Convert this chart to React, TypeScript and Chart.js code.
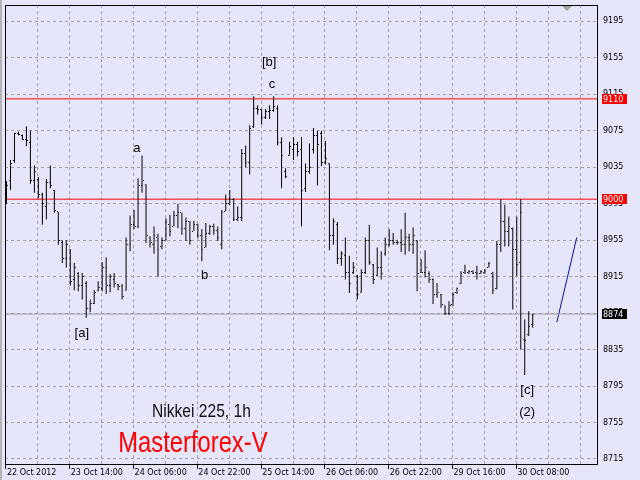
import React, { useEffect, useRef } from 'react';
import { Chart, registerables } from 'chart.js';
Chart.register(...registerables);

// ---- data ----
const timeLabels = ['22 Oct 2012', '23 Oct 14:00', '24 Oct 06:00', '24 Oct 22:00', '25 Oct 14:00', '26 Oct 06:00', '26 Oct 22:00', '29 Oct 16:00', '30 Oct 08:00'];
const priceTicks = [8715, 8755, 8795, 8835, 8875, 8915, 8955, 8995, 9035, 9075, 9115, 9155, 9195];

const opens = [
  8998, 9020, 9042, 9072, 9070, 9066, 9062, 9020, 9022, 9005, 8992, 9018, 9010, 8986, 8953, 8935, 8945, 8912, 8918, 8905,
  8908, 8880, 8886, 8900, 8902, 8925, 8905, 8912, 8906, 8904, 8900, 8950, 8972, 8970, 9015, 9016, 8958, 8950, 8958, 8948,
  8955, 8972, 8970, 8982, 8985, 8968, 8975, 8965, 8972, 8960, 8947, 8962, 8970, 8966, 8950, 8987, 8995, 9000, 8978, 8980,
  9050, 9040, 9080, 9100, 9098, 9090, 9096, 9097, 9100, 9062, 9030, 9048, 9055, 9060, 9055, 9012, 9030, 9055, 9070, 9072,
  9040, 9039, 8960, 8972, 8935, 8938, 8920, 8920, 8915, 8898, 8920, 8955, 8928, 8916, 8925, 8940, 8950, 8955, 8952, 8953,
  8950, 8958, 8950, 8955, 8920, 8920, 8918, 8912, 8895, 8895, 8883, 8875, 8884, 8898, 8908, 8920, 8920, 8921, 8920, 8919,
  8920, 8925, 8918, 8902, 8950, 8975, 8965, 8968, 8945, 8930, 8846, 8852, 8862,
];
const highs = [
  9020, 9043, 9073, 9074, 9071, 9080, 9075, 9037, 9024, 9007, 9022, 9037, 9010, 8986, 8955, 8955, 8945, 8930, 8920, 8919,
  8910, 8890, 8900, 8910, 8931, 8936, 8918, 8919, 8907, 8907, 8958, 8982, 8988, 9023, 9048, 9016, 8959, 8970, 8962, 8958,
  8979, 8983, 8987, 8995, 8985, 8980, 8976, 8976, 8973, 8967, 8974, 8972, 8973, 8970, 8988, 9005, 9010, 9001, 8992, 9055,
  9059, 9081, 9113, 9103, 9099, 9099, 9103, 9113, 9103, 9068, 9034, 9063, 9068, 9063, 9068, 9039, 9061, 9078, 9075, 9075,
  9064, 9039, 8979, 8975, 8943, 8958, 8938, 8931, 8917, 8923, 8958, 8972, 8929, 8947, 8943, 8958, 8967, 8963, 8955, 8967,
  8985, 8962, 8969, 8955, 8934, 8944, 8921, 8913, 8908, 8896, 8883, 8888, 8898, 8903, 8921, 8928, 8922, 8922, 8927, 8922,
  8923, 8931, 8920, 8954, 9000, 8994, 8981, 8969, 8981, 9000, 8868, 8877, 8874,
];
const lows = [
  8995, 9010, 9040, 9070, 9065, 9058, 9017, 9007, 9001, 8972, 8978, 9012, 8985, 8950, 8930, 8925, 8905, 8900, 8899, 8890,
  8870, 8876, 8885, 8899, 8899, 8896, 8898, 8903, 8900, 8890, 8900, 8943, 8967, 8968, 9007, 8952, 8947, 8940, 8915, 8945,
  8955, 8959, 8970, 8968, 8961, 8954, 8950, 8965, 8957, 8932, 8947, 8961, 8961, 8954, 8945, 8987, 8994, 8976, 8976, 8976,
  9035, 9027, 9078, 9093, 9082, 9088, 9088, 9096, 9059, 9012, 9023, 9048, 9043, 9047, 8970, 9008, 9028, 9050, 9015, 9036,
  9038, 8944, 8950, 8929, 8927, 8912, 8897, 8918, 8890, 8898, 8918, 8928, 8907, 8916, 8912, 8938, 8948, 8950, 8950, 8942,
  8939, 8943, 8940, 8899, 8919, 8914, 8908, 8885, 8892, 8881, 8873, 8873, 8883, 8896, 8907, 8918, 8918, 8918, 8912, 8918,
  8918, 8925, 8896, 8901, 8942, 8948, 8948, 8879, 8916, 8835, 8807, 8850, 8859,
];
const closes = [
  9015, 9039, 9072, 9071, 9066, 9064, 9020, 9030, 9005, 8995, 9018, 9015, 8988, 8955, 8935, 8950, 8910, 8925, 8905, 8915,
  8880, 8886, 8898, 8903, 8925, 8905, 8915, 8908, 8904, 8893, 8950, 8972, 8970, 9015, 9020, 8960, 8952, 8960, 8945, 8955,
  8975, 8965, 8982, 8985, 8968, 8975, 8955, 8972, 8960, 8945, 8962, 8970, 8966, 8958, 8985, 8995, 9000, 8978, 8980, 9050,
  9040, 9078, 9100, 9098, 9090, 9096, 9097, 9102, 9062, 9048, 9025, 9058, 9060, 9052, 9010, 9030, 9035, 9070, 9060, 9040,
  9045, 8960, 8975, 8935, 8940, 8920, 8908, 8925, 8895, 8920, 8955, 8930, 8912, 8925, 8918, 8950, 8955, 8952, 8953, 8950,
  8958, 8950, 8960, 8918, 8920, 8925, 8912, 8895, 8898, 8885, 8875, 8883, 8895, 8902, 8918, 8922, 8921, 8919, 8918, 8921,
  8922, 8929, 8900, 8950, 8975, 8965, 8970, 8945, 8928, 8985, 8845, 8860, 8874,
];

const resistanceHigh = 9110;
const resistanceLow = 9000;
const bidPrice = 8874;
const trendX = [138.05, 143.05];
const trendY = [8865, 8958];

const waveLabels = [
  { text: '[b]', x: 65.9, y: 9146 },
  { text: 'c', x: 66.6, y: 9122 },
  { text: 'a', x: 32.7, y: 9052 },
  { text: 'b', x: 49.7, y: 8912 },
  { text: '[a]', x: 18.9, y: 8849 },
  { text: '[c]', x: 130.6, y: 8786 },
  { text: '(2)', x: 130.6, y: 8762 },
];
const titleText = { text: 'Nikkei 225, 1h', x: 48.9, y: 8761 };
const brandText = { text: 'Masterforex-V', x: 46.75, y: 8722.6 };

const X_MIN = -0.375;
const X_MAX = 148.125;
const Y_MIN = 8709.5;
const Y_MAX = 9213.0;

const BG = '#e6e6fa';
const GRID = '#a0a0a0';
const AXIS_FONT = '"DejaVu Sans", "Liberation Sans", sans-serif';

export default function App() {
  const ref = useRef<HTMLCanvasElement | null>(null);

  useEffect(() => {
    document.body.style.margin = '0';
    const canvas = ref.current;
    if (!canvas) return;

    const mk = (left: boolean) => {
      const c = document.createElement('canvas');
      c.width = 3;
      c.height = 1;
      const g = c.getContext('2d')!;
      g.fillStyle = '#000';
      g.fillRect(left ? 0 : 2, 0, 1, 1);
      return c;
    };
    const openImg = mk(true);
    const closeImg = mk(false);

    const decor = {
      id: 'decor',
      beforeDraw(chart: any) {
        const ctx = chart.ctx;
        ctx.save();
        ctx.fillStyle = BG;
        ctx.fillRect(0, 0, chart.width, chart.height);
        ctx.fillStyle = '#b4b4b4';
        ctx.fillRect(0, 0, 2, chart.height);
        ctx.restore();
      },
      beforeDatasetsDraw(chart: any) {
        chart.ctx.imageSmoothingEnabled = false;
      },
      afterDatasetsDraw(chart: any) {
        const ctx = chart.ctx;
        const xs = chart.scales.x;
        const ys = chart.scales.y;
        const a = chart.chartArea;
        ctx.save();
        ctx.imageSmoothingEnabled = true;
        ctx.strokeStyle = '#000';
        ctx.lineWidth = 1;
        ctx.strokeRect(a.left + 0.5, a.top + 0.5, a.right - a.left, a.bottom - a.top);
        // chart shift marker
        ctx.fillStyle = '#a0a0a0';
        ctx.beginPath();
        ctx.moveTo(a.right - 35, a.top + 1);
        ctx.lineTo(a.right - 25, a.top + 1);
        ctx.lineTo(a.right - 30, a.top + 6);
        ctx.closePath();
        ctx.fill();
        ctx.textAlign = 'center';
        ctx.textBaseline = 'alphabetic';
        ctx.fillStyle = '#000';
        ctx.font = '13px "Liberation Sans", Arial, sans-serif';
        for (const w of waveLabels) {
          ctx.fillText(w.text, xs.getPixelForValue(w.x), ys.getPixelForValue(w.y));
        }
        const narrow = (t: { text: string; x: number; y: number }, size: number, color: string) => {
          ctx.save();
          ctx.translate(xs.getPixelForValue(t.x), ys.getPixelForValue(t.y));
          ctx.scale(0.82, 1);
          ctx.font = `${size}px "Liberation Sans", Arial, sans-serif`;
          ctx.fillStyle = color;
          ctx.fillText(t.text, 0, 0);
          ctx.restore();
        };
        narrow(titleText, 19, '#111');
        narrow(brandText, 29, '#ff0000');
        ctx.restore();
      },
      afterDraw(chart: any) {
        const ctx = chart.ctx;
        const ys = chart.scales.y;
        const a = chart.chartArea;
        ctx.save();
        ctx.font = `8px ${AXIS_FONT}`;
        ctx.textBaseline = 'middle';
        ctx.textAlign = 'left';
        const boxes = [
          { v: resistanceHigh, bg: '#ff0000' },
          { v: resistanceLow, bg: '#ff0000' },
          { v: bidPrice, bg: '#000000' },
        ];
        for (const b of boxes) {
          const py = Math.round(ys.getPixelForValue(b.v));
          ctx.fillStyle = b.bg;
          ctx.fillRect(a.right + 5, py - 5, 25, 10);
          ctx.fillStyle = '#ffffff';
          ctx.fillText(String(b.v), a.right + 6, py + 0.5);
        }
        ctx.restore();
      },
    };

    const hline = (v: number, color: string) => ({
      type: 'line' as const,
      data: [{ x: X_MIN, y: v }, { x: X_MAX, y: v }],
      borderColor: color,
      borderWidth: 1,
      pointRadius: 0,
      fill: false,
    });

    const chart = new Chart(canvas, {
      type: 'bar',
      data: {
        datasets: [
          {
            type: 'bar',
            data: highs.map((h, i) => ({ x: i, y: [lows[i], h] })) as any,
            backgroundColor: '#000',
            borderWidth: 0,
            barThickness: 1,
            inflateAmount: 0,
          } as any,
          {
            type: 'line',
            data: opens.map((v, i) => ({ x: i, y: v })),
            showLine: false,
            pointStyle: openImg as any,
            pointRadius: 1,
          },
          {
            type: 'line',
            data: closes.map((v, i) => ({ x: i, y: v })),
            showLine: false,
            pointStyle: closeImg as any,
            pointRadius: 1,
          },
          hline(resistanceHigh, '#ff0000'),
          hline(resistanceLow, '#ff0000'),
          hline(bidPrice, '#a0a0a0'),
          {
            type: 'line',
            data: trendX.map((x, i) => ({ x, y: trendY[i] })),
            borderColor: '#1010a0',
            borderWidth: 1,
            pointRadius: 0,
          },
        ] as any,
      },
      options: {
        animation: false,
        responsive: false,
        devicePixelRatio: 1,
        events: [],
        layout: { padding: { left: 3, top: 3, right: 0, bottom: 0 } },
        plugins: { legend: { display: false }, tooltip: { enabled: false } },
        scales: {
          x: {
            type: 'linear',
            min: X_MIN,
            max: X_MAX,
            offset: false,
            grid: {
              offset: false,
              color: (c: any) => (c.index === 0 ? 'rgba(0,0,0,0)' : GRID),
              lineWidth: 1,
              tickLength: 5,
              tickColor: (c: any) => (c.index % 2 === 0 && c.index / 2 < timeLabels.length ? '#000' : 'rgba(0,0,0,0)'),
            },
            border: { display: false, dash: [3, 3] },
            ticks: {
              autoSkip: false,
              maxRotation: 0,
              minRotation: 0,
              align: 'start',
              padding: -1,
              labelOffset: 1,
              color: '#000',
              font: { family: AXIS_FONT, size: 8 },
              callback: (_v: any, i: number) => (i % 2 === 0 ? timeLabels[i / 2] ?? '' : ''),
            },
            afterBuildTicks: (scale: any) => {
              const t: any[] = [];
              for (let k = 0; k <= 18; k++) t.push({ value: 8 * k - 0.125 });
              scale.ticks = t;
            },
            afterFit: (scale: any) => {
              scale.height = 16;
              scale.paddingLeft = 0;
              scale.paddingRight = 0;
            },
          },
          y: {
            type: 'linear',
            position: 'right',
            min: Y_MIN,
            max: Y_MAX,
            grid: {
              color: GRID,
              lineWidth: 1,
              drawTicks: false,
            },
            border: { display: false, dash: [3, 3] },
            ticks: {
              autoSkip: false,
              padding: 6,
              color: '#000',
              font: { family: AXIS_FONT, size: 8 },
              callback: (v: any) => String(v),
            },
            afterBuildTicks: (scale: any) => {
              scale.ticks = priceTicks.map((v) => ({ value: v }));
            },
            afterFit: (scale: any) => {
              scale.width = 43;
              scale.paddingTop = 0;
              scale.paddingBottom = 0;
            },
          },
        },
      } as any,
      plugins: [decor],
    });

    return () => chart.destroy();
  }, []);

  return <canvas ref={ref} width={640} height={480} style={{ display: 'block', width: 640, height: 480 }} />;
}
